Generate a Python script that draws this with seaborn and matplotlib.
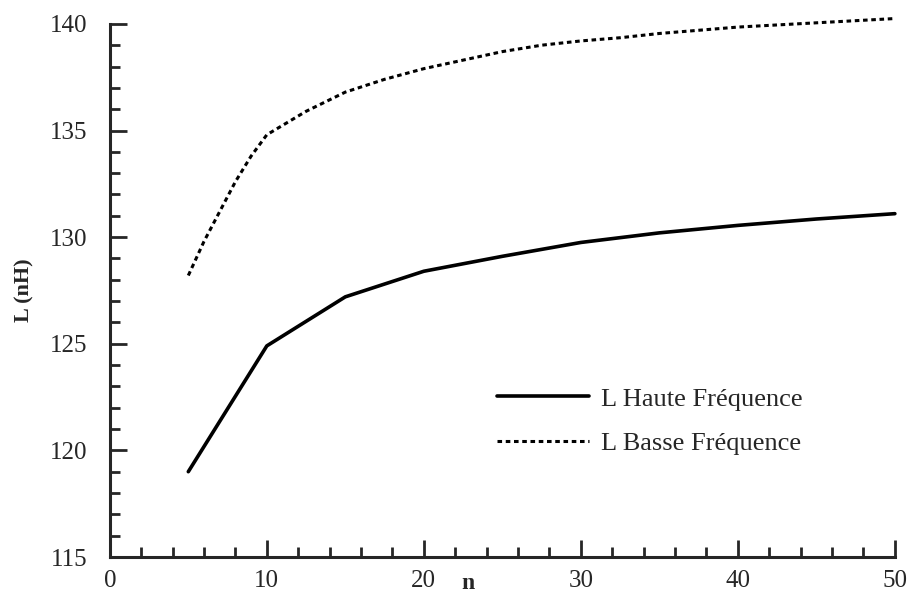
import numpy as np
import pandas as pd
import seaborn as sns
import matplotlib.pyplot as plt
from matplotlib.ticker import MultipleLocator

# Données
n_haute = [5, 10, 15, 20, 25, 30, 35, 40, 45, 50]
L_haute = [119.0, 124.9, 127.2, 128.4, 129.1, 129.75, 130.2, 130.55, 130.85, 131.1]

n_basse = [5, 6, 7, 8, 9, 10, 12.5, 15, 17.5, 20, 22.5, 25, 27.5, 30,
           32.5, 35, 37.5, 40, 42.5, 45, 47.5, 50]
L_basse = [128.2, 129.8, 131.2, 132.6, 133.8, 134.8, 135.9, 136.8, 137.4, 137.9,
           138.3, 138.7, 139.0, 139.2, 139.35, 139.55, 139.7, 139.85, 139.95,
           140.05, 140.15, 140.25]

label_haute = 'L Haute Fréquence'
label_basse = 'L Basse Fréquence'

sns.set_style('ticks')
plt.rcParams['font.family'] = ['Liberation Serif', 'DejaVu Serif']

df_haute = pd.DataFrame({'n': n_haute, 'L': L_haute})
df_basse = pd.DataFrame({'n': n_basse, 'L': L_basse})

fig = plt.figure(figsize=(9.15, 5.97), dpi=100)
ax = fig.add_axes([0.120, 0.067, 0.858, 0.893])

sns.lineplot(data=df_haute, x='n', y='L', ax=ax, color='black', linewidth=2.6,
             label=label_haute, clip_on=False)
sns.lineplot(data=df_basse, x='n', y='L', ax=ax, color='black', linewidth=2.2,
             linestyle=(0, (1.5, 1.2)), label=label_basse, clip_on=False)

ax.set_xlim(0, 50)
ax.set_ylim(115, 140)
ax.xaxis.set_major_locator(MultipleLocator(10))
ax.xaxis.set_minor_locator(MultipleLocator(2))
ax.yaxis.set_major_locator(MultipleLocator(5))
ax.yaxis.set_minor_locator(MultipleLocator(1))

sns.despine(ax=ax)
for s in ['left', 'bottom']:
    ax.spines[s].set_linewidth(2.2)

ax.tick_params(which='major', direction='in', length=12, width=2, labelsize=18)
ax.tick_params(which='minor', direction='in', length=7, width=2)
ax.tick_params(axis='x', which='major', pad=9)
ax.tick_params(axis='y', which='major', pad=16)

ax.set_xlabel('n', fontsize=17, fontweight='bold')
ax.set_ylabel('L (nH)', fontsize=16, fontweight='bold')
ax.xaxis.set_label_coords(0.456, -0.03)
ax.yaxis.set_label_coords(-0.096, 0.5)

ax.legend(loc='upper left', bbox_to_anchor=(0.463, 0.363), frameon=False,
          fontsize=19, handlelength=3.5, handletextpad=0.45, labelspacing=0.78)

fig.savefig('out.png', dpi=100)
